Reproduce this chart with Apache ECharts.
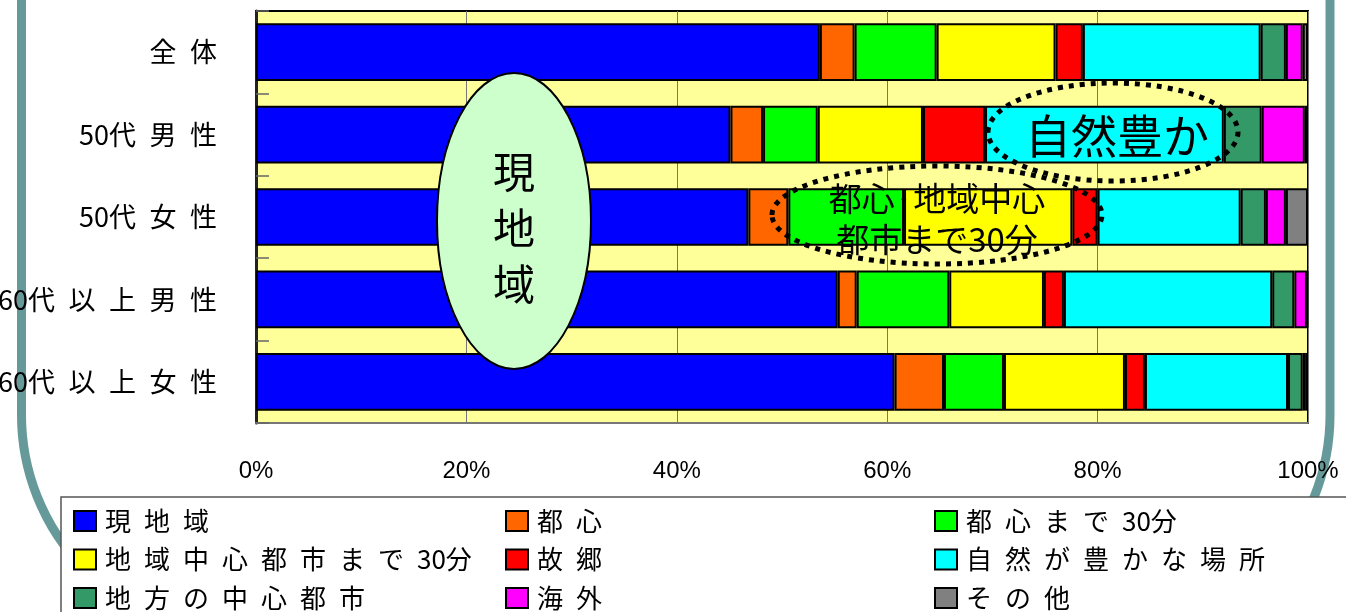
<!DOCTYPE html>
<html>
<head>
<meta charset="utf-8">
<script src="https://cdn.jsdelivr.net/npm/echarts@6/dist/echarts.min.js"></script>
<style>
html,body{margin:0;padding:0;background:#fff;}
#main{width:1346px;height:612px;}
</style>
</head>
<body>
<div id="main"></div>
<script>
// ---- data ----
const categories = ['全体', '50代男性', '50代女性', '60代以上男性', '60代以上女性'];
const seriesNames = ['現地域', '都心', '都心まで30分', '地域中心都市まで30分', '故郷', '自然が豊かな場所', '地方の中心都市', '海外', 'その他'];
const localArea     = [53.6, 45.1, 46.8, 55.3, 60.7];
const cityCenter    = [3.3, 3.1, 3.8, 1.8, 4.7];
const near30Center  = [7.8, 5.2, 11.0, 8.8, 5.7];
const near30Region  = [11.3, 10.0, 16.0, 9.0, 11.5];
const hometown      = [2.6, 5.9, 2.4, 1.9, 1.9];
const nature        = [16.9, 22.7, 13.6, 19.8, 13.6];
const regionalCity  = [2.4, 3.6, 2.4, 2.1, 1.4];
const overseas      = [1.6, 4.1, 1.9, 1.2, 0.3];
const other         = [0.5, 0.3, 2.1, 0.1, 0.2];
const xTicks = [0, 20, 40, 60, 80, 100];

const seriesValues = [localArea, cityCenter, near30Center, near30Region, hometown, nature, regionalCity, overseas, other];
const colors = ['#0000FF', '#FF6600', '#00FF00', '#FFFF00', '#FF0000', '#00FFFF', '#339966', '#FF00FF', '#808080'];

const FONT = "'Noto Sans CJK JP', 'Noto Sans', sans-serif";
const spaced = s => s.replace(/([^\d])(?=.)/g, '$1\u2002');

const chart = echarts.init(document.getElementById('main'));

function legendCol(left, names) {
  return {
    orient: 'vertical', left: left, top: 507, padding: 0,
    itemWidth: 22, itemHeight: 20, itemGap: 10.5,
    icon: 'rect', selectedMode: false, z: 6,
    data: names,
    formatter: spaced,
    textStyle: { fontSize: 26, lineHeight: 28, color: '#000', fontFamily: FONT, padding: [0, 0, 0, 4] }
  };
}

const option = {
  animation: false,
  textStyle: { fontFamily: FONT },
  grid: { left: 256, right: 38, top: 11, bottom: 189, show: true, containLabel: false, outerBoundsMode: 'none',
          backgroundColor: '#FFFF99', borderColor: '#000', borderWidth: 2 },
  xAxis: {
    type: 'value', min: xTicks[0], max: xTicks[xTicks.length - 1], interval: xTicks[1] - xTicks[0],
    axisLabel: { formatter: '{value}%', fontSize: 24, color: '#000', margin: 36, fontFamily: "'Liberation Sans', sans-serif" },
    splitLine: { show: true, lineStyle: { color: '#777', width: 1 } },
    axisLine: { show: true, lineStyle: { color: '#777', width: 2 } },
    axisTick: { show: false }
  },
  yAxis: {
    type: 'category', data: categories, inverse: true,
    axisLabel: { fontSize: 27, color: '#000', margin: 39, formatter: spaced, fontFamily: FONT },
    axisTick: { show: true, inside: true, length: 13, lineStyle: { color: '#666', width: 1.5 } },
    axisLine: { show: true, lineStyle: { color: '#222', width: 3 } }
  },
  legend: [
    legendCol(73, [seriesNames[0], seriesNames[3], seriesNames[6]]),
    legendCol(505, [seriesNames[1], seriesNames[4], seriesNames[7]]),
    legendCol(934, [seriesNames[2], seriesNames[5], seriesNames[8]])
  ],
  series: seriesNames.map((n, i) => ({
    name: n, type: 'bar', stack: 'total', barWidth: '70%',
    data: seriesValues[i],
    itemStyle: { color: colors[i], borderColor: '#000', borderWidth: 2 }
  })),
  graphic: [
    // slide frame
    { type: 'rect', z: 0, shape: { x: 21.5, y: -400, width: 1308.5, height: 1035, r: 220 },
      style: { fill: 'none', stroke: '#669999', lineWidth: 9 } },
    // legend box
    { type: 'rect', z: 1, shape: { x: 61, y: 497, width: 1320, height: 200 },
      style: { fill: '#fff', stroke: '#555', lineWidth: 1.5 } },
    // 現地域 ellipse
    { type: 'ellipse', z: 20, shape: { cx: 514, cy: 221, rx: 77, ry: 148 },
      style: { fill: '#CCFFCC', stroke: '#000', lineWidth: 2 } },
    { type: 'text', z: 21, x: 514, y: 228,
      style: { text: '現\n地\n域', fontSize: 42, lineHeight: 56, fontFamily: FONT, fill: '#000', align: 'center', verticalAlign: 'middle' } },
    // 自然豊か
    { type: 'ellipse', z: 20, shape: { cx: 1113, cy: 132, rx: 125, ry: 49 },
      style: { fill: 'none', stroke: '#000', lineWidth: 5, lineDash: [5, 6] } },
    { type: 'text', z: 21, x: 1117, y: 136,
      style: { text: '自然豊か', fontSize: 46, fontFamily: FONT, fill: '#000', align: 'center', verticalAlign: 'middle' } },
    // 都心・地域中心都市まで30分
    { type: 'ellipse', z: 20, shape: { cx: 937, cy: 215, rx: 165, ry: 49 },
      style: { fill: 'none', stroke: '#000', lineWidth: 5, lineDash: [5, 6] } },
    { type: 'text', z: 21, x: 937, y: 219,
      style: { text: '都心·地域中心\n都市まで30分', fontSize: 33, lineHeight: 41, fontFamily: FONT, fill: '#000', align: 'center', verticalAlign: 'middle' } }
  ]
};
chart.setOption(option);
</script>
</body>
</html>
